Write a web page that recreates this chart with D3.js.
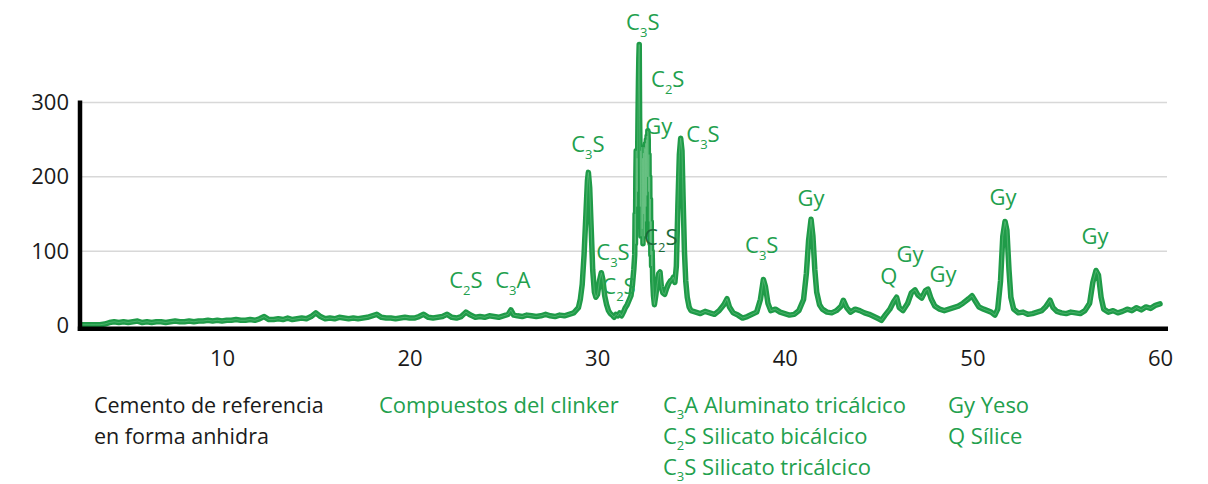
<!DOCTYPE html>
<html>
<head>
<meta charset="utf-8">
<script src="https://cdn.jsdelivr.net/npm/d3@7"></script>
<style>
  html, body { margin: 0; padding: 0; background: #fff; }
  svg { display: block; font-family: "Open Sans", "Noto Sans", sans-serif; }
</style>
</head>
<body>
<svg id="chart" width="1208" height="484"></svg>
<script>
// X-ray diffractogram of the reference cement (anhydrous form)
// Diffraction angle 2θ (degrees)
const twoTheta = [
  2.5, 2.75, 3, 3.25, 3.5, 3.75, 4, 4.25, 4.5, 4.75,
  5, 5.25, 5.5, 5.75, 6, 6.25, 6.5, 6.75, 7, 7.25,
  7.5, 7.75, 8, 8.25, 8.5, 8.75, 9, 9.25, 9.5, 9.75,
  10, 10.25, 10.5, 10.75, 11, 11.25, 11.5, 11.75, 12, 12.25,
  12.5, 12.75, 13, 13.25, 13.5, 13.75, 14, 14.25, 14.5, 14.75,
  15, 15.25, 15.5, 15.75, 16, 16.25, 16.5, 16.75, 17, 17.25,
  17.5, 17.75, 18, 18.25, 18.5, 18.75, 19, 19.25, 19.5, 19.75,
  20, 20.25, 20.5, 20.75, 21, 21.25, 21.5, 21.75, 22, 22.25,
  22.5, 22.75, 23, 23.25, 23.5, 23.75, 24, 24.25, 24.5, 24.75,
  25, 25.25, 25.4, 25.55, 25.75, 26, 26.25, 26.5, 26.75, 27,
  27.25, 27.5, 27.75, 28, 28.25, 28.5, 28.75, 29, 29.1, 29.2,
  29.3, 29.4, 29.48, 29.53, 29.6, 29.68, 29.76, 29.85, 29.93, 30.02,
  30.12, 30.22, 30.3, 30.4, 30.5, 30.6, 30.7, 30.8, 30.9, 31,
  31.1, 31.2, 31.3, 31.4, 31.5, 31.6, 31.7, 31.8, 31.88, 31.95,
  32, 32.02, 32.04, 32.06, 32.08, 32.1, 32.12, 32.14, 32.16, 32.18,
  32.2, 32.22, 32.24, 32.26, 32.28, 32.3, 32.32, 32.34, 32.36, 32.38,
  32.4, 32.42, 32.44, 32.46, 32.48, 32.5, 32.52, 32.54, 32.56, 32.58,
  32.6, 32.62, 32.64, 32.66, 32.68, 32.7, 32.72, 32.74, 32.76, 32.78,
  32.8, 32.82, 32.84, 32.86, 32.88, 32.9, 32.93, 32.96, 33, 33.05,
  33.12, 33.2, 33.28, 33.35, 33.42, 33.5, 33.6, 33.7, 33.8, 33.9,
  34, 34.06, 34.14, 34.22, 34.3, 34.38, 34.45, 34.52, 34.58, 34.65,
  34.72, 34.8, 34.9, 35,
  35.25, 35.5, 35.75, 36, 36.25, 36.5, 36.75, 36.92, 37.05, 37.25,
  37.5, 37.75, 38, 38.25, 38.5, 38.7, 38.86, 38.97, 39.1, 39.25,
  39.5, 39.75, 40, 40.25, 40.5, 40.75, 41, 41.15, 41.27, 41.4,
  41.5, 41.6, 41.7, 41.85, 42, 42.25, 42.5, 42.75, 43, 43.12,
  43.3, 43.5, 43.75, 44, 44.25, 44.5, 44.75, 45, 45.15, 45.35,
  45.6, 45.8, 45.96, 46.1, 46.3, 46.55, 46.75, 46.94, 47.1, 47.3,
  47.5, 47.63, 47.8, 48, 48.25, 48.5, 48.75, 49, 49.25, 49.5,
  49.8, 49.98, 50.15, 50.35, 50.6, 50.8, 51, 51.2, 51.35, 51.5,
  51.62, 51.74, 51.84, 51.95, 52.05, 52.2, 52.45, 52.7, 52.95, 53.2,
  53.45, 53.7, 53.9, 54.14, 54.3, 54.5, 54.75, 55, 55.25, 55.5,
  55.75, 56, 56.25, 56.42, 56.59, 56.72, 56.86, 57, 57.25, 57.5,
  57.75, 58, 58.25, 58.5, 58.75, 59, 59.25, 59.5, 59.75, 60
];

// Measured intensity (counts) at each angle
const counts = [
  1, 1, 1, 1, 1, 2, 4, 5, 4, 5,
  4, 5, 6, 4, 5, 4, 5, 5, 4, 5,
  6, 5, 5, 6, 5, 6, 6, 7, 6, 7,
  6, 7, 7, 8, 7, 7, 8, 7, 9, 12,
  8, 8, 9, 8, 10, 8, 9, 10, 9, 12,
  17, 12, 9, 10, 9, 11, 10, 9, 10, 9,
  10, 11, 13, 15, 11, 10, 10, 9, 10, 11,
  10, 10, 12, 15, 11, 10, 11, 12, 15, 11,
  10, 12, 18, 14, 11, 12, 11, 13, 12, 11,
  13, 15, 21, 14, 13, 12, 14, 13, 12, 13,
  15, 13, 12, 14, 13, 15, 17, 24, 35, 55,
  95, 150, 195, 206, 185, 130, 75, 45, 38, 42,
  60, 71, 62, 40, 28, 20, 16, 14, 11, 15,
  13, 17, 13, 18, 24, 28, 34, 40, 55, 75,
  95, 150, 110, 200, 235, 160, 225, 180, 240, 290,
  330, 360, 378, 280, 240, 160, 235, 120, 220, 240,
  130, 225, 110, 232, 150, 240, 120, 238, 140, 245,
  160, 250, 175, 255, 200, 262, 250, 180, 230, 140,
  200, 110, 170, 95, 140, 80, 100, 60, 40, 28,
  40, 55, 70, 72, 52, 44, 42, 50, 56, 60,
  62, 65, 58, 80, 160, 230, 252, 235, 170, 100,
  60, 38, 25, 20,
  18, 16, 19, 17, 15, 20, 28, 36, 25, 17,
  14, 10, 12, 15, 18, 35, 62, 52, 30, 20,
  22, 18, 16, 14, 15, 20, 35, 70, 115, 143,
  120, 75, 45, 28, 22, 18, 17, 20, 26, 34,
  24, 18, 22, 20, 17, 15, 12, 9, 7, 14,
  22, 32, 38, 24, 20, 30, 44, 48, 41, 37,
  47, 49, 36, 26, 22, 20, 22, 24, 26, 30,
  36, 40, 33, 25, 22, 20, 18, 14, 22, 60,
  120, 140, 128, 75, 38, 22, 17, 18, 15, 16,
  18, 20, 25, 34, 24, 19, 17, 16, 18, 17,
  16, 20, 30, 58, 74, 68, 38, 22, 18, 20,
  17, 19, 22, 20, 24, 21, 25, 23, 27, 29
];

const yTicks = [0, 100, 200, 300];
const xTicks = [10, 20, 30, 40, 50, 60];

// Phase identifications placed above the diffraction peaks (angle, height in counts)
const peakNames   = ["C2S", "C3A", "C3S", "C3S", "C2S", "C3S", "C2S", "Gy",  "C2S", "C3S", "C3S", "Gy",  "Q",   "Gy",  "Gy",  "Gy",  "Gy"];
const peakAngles  = [23.0,  25.5,  29.5,  30.84, 31.16, 32.43, 33.76, 33.28, 33.39, 35.64, 38.77, 41.4,  45.55, 46.67, 48.43, 51.63, 56.54];
const peakHeights = [50,    50,    233,   88,    42,    398,   321,   258,   108,   247,   97,    161,   56,    85,    58,    162,   110];
const peakDark    = [false, false, false, false, false, false, false, false, true,  false, false, false, false, false, false, false, false];

// Legend / key text
const sampleLines = ["Cemento de referencia", "en forma anhidra"];
const groupTitle = ["Compuestos del clinker"];
const clinkerKey = ["C3A Aluminato tricálcico", "C2S Silicato bicálcico", "C3S Silicato tricálcico"];
const otherKey = ["Gy Yeso", "Q Sílice"];

const GREEN = "#1f9b48";
const TEXT_GREEN = "#22a04d";
const DARK_GREEN = "#1c6a39";
const INK = "#1a1a1a";

const svg = d3.select("#chart");

const x = d3.scaleLinear().domain([2.5, 60.4]).range([81.3, 1167.5]);
const y = d3.scaleLinear().domain([0, 300]).range([325.5, 102.5]);

// Writes chemical notation with digits as subscripts (C3S -> C₃S)
function richText(textSel, str, subSize, shift) {
  const tokens = str.match(/\d+|\D+/g) || [];
  let lowered = false;
  tokens.forEach(tok => {
    const t = textSel.append("tspan").text(tok);
    if (/^\d+$/.test(tok)) {
      t.attr("font-size", subSize).attr("dy", shift);
      lowered = true;
    } else if (lowered) {
      t.attr("dy", -shift);
      lowered = false;
    }
  });
}

// Horizontal gridlines
svg.append("g")
  .selectAll("line")
  .data(yTicks.filter(d => d > 0))
  .join("line")
  .attr("x1", 82).attr("x2", 1167)
  .attr("y1", d => y(d)).attr("y2", d => y(d))
  .attr("stroke", "#d8d8d8")
  .attr("stroke-width", 1.5);

// Diffractogram trace
const points = twoTheta.map((t, i) => [t, counts[i]]);
const line = d3.line().x(d => x(d[0])).y(d => y(d[1]));

svg.append("path")
  .datum(points)
  .attr("d", line)
  .attr("fill", "none")
  .attr("stroke", GREEN)
  .attr("stroke-width", 5.5)
  .attr("stroke-linejoin", "round")
  .attr("stroke-linecap", "round");

svg.append("path")
  .datum(points)
  .attr("d", line)
  .attr("fill", "none")
  .attr("stroke", "#7fcb95")
  .attr("stroke-width", 1)
  .attr("stroke-opacity", 0.45)
  .attr("stroke-linejoin", "round");

// Axes
const yAxis = d3.axisLeft(y).tickValues(yTicks).tickSize(0).tickPadding(11).tickFormat(d3.format("d"));
const gy = svg.append("g").attr("transform", "translate(80,0)").call(yAxis);
gy.select(".domain").remove();
gy.selectAll("text").attr("font-size", 22).attr("fill", INK).attr("font-family", "Open Sans, sans-serif");

const xAxis = d3.axisBottom(x).tickValues(xTicks).tickSize(0).tickPadding(22).tickFormat(d3.format("d"));
const gx = svg.append("g").attr("transform", "translate(0,328.7)").call(xAxis);
gx.select(".domain").remove();
gx.selectAll("text").attr("font-size", 22).attr("fill", INK).attr("font-family", "Open Sans, sans-serif");

svg.append("line")
  .attr("x1", 80).attr("x2", 80)
  .attr("y1", 100.5).attr("y2", 331)
  .attr("stroke", "#000").attr("stroke-width", 4.5);
svg.append("line")
  .attr("x1", 77.8).attr("x2", 1168)
  .attr("y1", 328.7).attr("y2", 328.7)
  .attr("stroke", "#000").attr("stroke-width", 4.5);

// Peak labels
peakNames.forEach((name, i) => {
  const t = svg.append("text")
    .attr("x", x(peakAngles[i]))
    .attr("y", y(peakHeights[i]))
    .attr("text-anchor", "middle")
    .attr("font-size", 22)
    .attr("fill", peakDark[i] ? DARK_GREEN : TEXT_GREEN);
  richText(t, name, 13, 7);
});

// Key below the chart
function keyColumn(lines, xPos, color, size) {
  lines.forEach((str, i) => {
    const t = svg.append("text")
      .attr("x", xPos)
      .attr("y", 413 + i * 31)
      .attr("font-size", size)
      .attr("fill", color);
    richText(t, str, 13, 6);
  });
}
keyColumn(sampleLines, 94, INK, 21.5);
keyColumn(groupTitle, 379, TEXT_GREEN, 22);
keyColumn(clinkerKey, 663, TEXT_GREEN, 22);
keyColumn(otherKey, 948, TEXT_GREEN, 22);
</script>
</body>
</html>
